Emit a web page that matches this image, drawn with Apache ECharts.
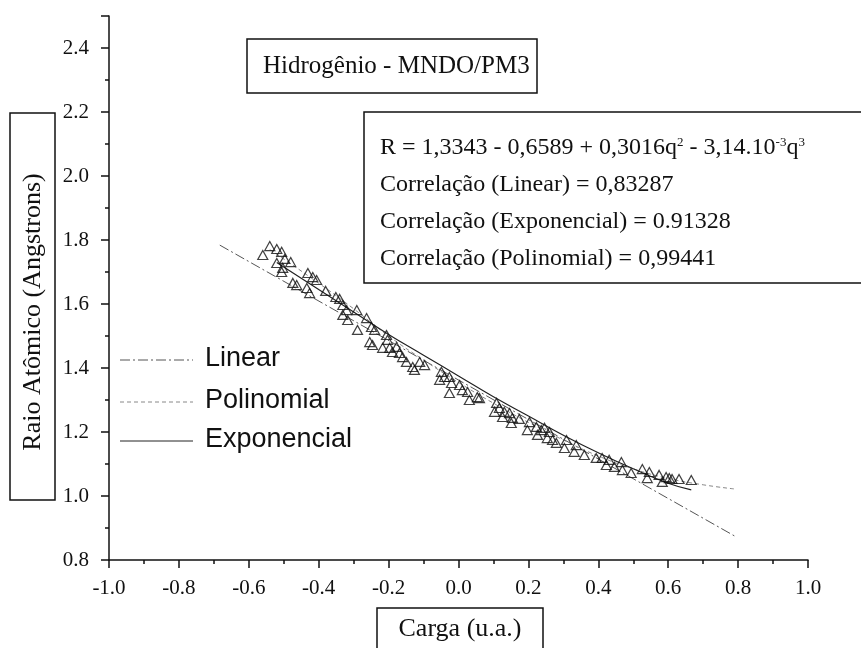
<!DOCTYPE html>
<html>
<head>
<meta charset="utf-8">
<title>Hidrogênio - MNDO/PM3</title>
<script src="https://cdn.jsdelivr.net/npm/echarts@6/dist/echarts.min.js"></script>
<style>
  html, body { margin: 0; padding: 0; background: #fff; }
  #main { width: 861px; height: 648px; }
</style>
</head>
<body>
<div id="main"></div>
<script>
// carga (u.a.) dos pontos medidos
var cargaData = [-0.540, -0.520, -0.506, -0.560, -0.497, -0.480, -0.520, -0.503, -0.506, -0.431,
  -0.417, -0.406, -0.474, -0.463, -0.434, -0.426, -0.380, -0.351, -0.340, -0.331,
  -0.320, -0.331, -0.317, -0.291, -0.263, -0.289, -0.249, -0.240, -0.206, -0.203,
  -0.254, -0.246, -0.217, -0.197, -0.177, -0.189, -0.169, -0.160, -0.149, -0.131,
  -0.111, -0.097, -0.126, -0.049, -0.040, -0.026, -0.054, -0.020, -0.026, 0.003,
  0.011, 0.026, 0.031, 0.054, 0.060, 0.109, 0.117, 0.103, 0.131, 0.146,
  0.126, 0.154, 0.151, 0.174, 0.203, 0.197, 0.223, 0.237, 0.246, 0.260,
  0.226, 0.254, 0.269, 0.280, 0.309, 0.303, 0.337, 0.331, 0.360, 0.394,
  0.411, 0.431, 0.423, 0.446, 0.466, 0.469, 0.494, 0.526, 0.546, 0.540,
  0.574, 0.594, 0.583, 0.603, 0.611, 0.631, 0.666];
// raio atômico (Angstrons) dos pontos medidos
var raioData = [1.781, 1.772, 1.763, 1.753, 1.741, 1.731, 1.728, 1.713, 1.700, 1.697,
  1.684, 1.675, 1.666, 1.659, 1.650, 1.634, 1.641, 1.622, 1.616, 1.597,
  1.581, 1.566, 1.550, 1.581, 1.556, 1.519, 1.528, 1.519, 1.503, 1.488,
  1.481, 1.472, 1.463, 1.463, 1.466, 1.450, 1.447, 1.434, 1.419, 1.403,
  1.419, 1.409, 1.394, 1.388, 1.372, 1.372, 1.363, 1.353, 1.322, 1.347,
  1.331, 1.325, 1.300, 1.309, 1.306, 1.291, 1.275, 1.263, 1.263, 1.259,
  1.247, 1.244, 1.228, 1.241, 1.231, 1.206, 1.216, 1.206, 1.213, 1.200,
  1.191, 1.181, 1.175, 1.166, 1.175, 1.150, 1.159, 1.138, 1.128, 1.119,
  1.119, 1.113, 1.097, 1.091, 1.106, 1.081, 1.072, 1.084, 1.075, 1.056,
  1.066, 1.059, 1.044, 1.056, 1.053, 1.053, 1.050];

// curvas de ajuste
var linearQ = [-0.683, 0.790];
var linearR = [1.784, 0.875];
var polyQ = [-0.54, -0.4, -0.3, -0.2, -0.1, 0.0, 0.1, 0.2, 0.3, 0.4, 0.5, 0.6, 0.7, 0.79];
var polyR = [1.770, 1.665, 1.585, 1.500, 1.425, 1.355, 1.290, 1.230, 1.175, 1.125, 1.085, 1.055, 1.035, 1.022];
var expQ = [-0.52, -0.4, -0.3, -0.2, -0.1, 0.0, 0.1, 0.2, 0.3, 0.4, 0.5, 0.6, 0.666];
var expR = [1.730, 1.645, 1.575, 1.505, 1.440, 1.375, 1.310, 1.250, 1.190, 1.135, 1.085, 1.040, 1.019];

// legenda das curvas
var legendNames = ['Linear', 'Polinomial', 'Exponencial'];

function pairs(xs, ys) {
  var out = [];
  for (var i = 0; i < xs.length; i++) {
    out.push([xs[i], ys[i]]);
  }
  return out;
}

var serif = '"Liberation Serif", "Times New Roman", serif';
var sans = '"Liberation Sans", Arial, sans-serif';

var lineStyles = [
  {color: '#555', width: 1, type: [10, 3, 2, 3]},
  {color: '#888', width: 1, type: [4, 3]},
  {color: '#222', width: 1.2, type: 'solid'}
];

var chart = echarts.init(document.getElementById('main'));

var legendGraphics = [];
var legendY = [360, 402, 441];
for (var i = 0; i < legendNames.length; i++) {
  legendGraphics.push({
    type: 'line',
    shape: {x1: 120, y1: legendY[i], x2: 193, y2: legendY[i]},
    style: {stroke: lineStyles[i].color, lineWidth: 1, lineDash: lineStyles[i].type === 'solid' ? null : lineStyles[i].type}
  });
  legendGraphics.push({
    type: 'text',
    x: 205,
    y: legendY[i] - 1,
    style: {text: legendNames[i], font: '27px ' + sans, fill: '#111', verticalAlign: 'middle'}
  });
}

var option = {
  backgroundColor: '#fff',
  animation: false,
  grid: {
    left: 109,
    right: 53,
    top: 16,
    bottom: 88,
    outerBoundsMode: 'none'
  },
  xAxis: {
    type: 'value',
    min: -1,
    max: 1,
    interval: 0.2,
    splitLine: {show: false},
    axisLine: {show: true, onZero: false, lineStyle: {color: '#111', width: 1.5}},
    axisTick: {show: true, length: 8, lineStyle: {color: '#111', width: 1.5}},
    minorTick: {show: true, splitNumber: 2, length: 4, lineStyle: {color: '#111', width: 1.5}},
    axisLabel: {
      margin: 18,
      color: '#111',
      fontFamily: serif,
      fontSize: 21,
      formatter: function (v) { return v.toFixed(1); }
    }
  },
  yAxis: {
    type: 'value',
    min: 0.8,
    max: 2.5,
    interval: 0.2,
    splitLine: {show: false},
    axisLine: {show: true, onZero: false, lineStyle: {color: '#111', width: 1.5}},
    axisTick: {show: true, length: 8, lineStyle: {color: '#111', width: 1.5}},
    minorTick: {show: true, splitNumber: 2, length: 4, lineStyle: {color: '#111', width: 1.5}},
    axisLabel: {
      margin: 20,
      color: '#111',
      fontFamily: serif,
      fontSize: 21,
      showMaxLabel: false,
      formatter: function (v) { return v.toFixed(1); }
    }
  },
  series: [
    {
      name: 'Linear',
      type: 'line',
      data: pairs(linearQ, linearR),
      symbol: 'none',
      lineStyle: lineStyles[0],
      z: 2
    },
    {
      name: 'Polinomial',
      type: 'line',
      data: pairs(polyQ, polyR),
      symbol: 'none',
      smooth: true,
      lineStyle: lineStyles[1],
      z: 2
    },
    {
      name: 'Exponencial',
      type: 'line',
      data: pairs(expQ, expR),
      symbol: 'none',
      smooth: true,
      lineStyle: lineStyles[2],
      z: 2
    },
    {
      name: 'Raio',
      type: 'scatter',
      data: pairs(cargaData, raioData),
      symbol: 'triangle',
      symbolSize: [10, 9],
      itemStyle: {color: 'transparent', borderColor: '#111', borderWidth: 1.2},
      z: 3
    }
  ],
  graphic: [
    // titulo do eixo y em caixa
    {
      type: 'rect',
      shape: {x: 10, y: 113, width: 45, height: 387},
      style: {fill: '#fff', stroke: '#111', lineWidth: 1.5}
    },
    {
      type: 'text',
      x: 33,
      y: 312,
      rotation: Math.PI / 2,
      style: {text: 'Raio Atômico (Angstrons)', font: '26px ' + serif, fill: '#111', align: 'center', verticalAlign: 'middle'}
    },
    // titulo do eixo x em caixa
    {
      type: 'rect',
      shape: {x: 377, y: 608, width: 166, height: 60},
      style: {fill: '#fff', stroke: '#111', lineWidth: 1.5}
    },
    {
      type: 'text',
      x: 460,
      y: 629,
      style: {text: 'Carga (u.a.)', font: '26px ' + serif, fill: '#111', align: 'center', verticalAlign: 'middle'}
    },
    // titulo do grafico
    {
      type: 'rect',
      shape: {x: 247, y: 39, width: 290, height: 54},
      style: {fill: '#fff', stroke: '#111', lineWidth: 1.5}
    },
    {
      type: 'text',
      x: 263,
      y: 66,
      style: {text: 'Hidrogênio - MNDO/PM3', font: '25px ' + serif, fill: '#111', verticalAlign: 'middle'}
    },
    // caixa da equacao e correlacoes
    {
      type: 'rect',
      shape: {x: 364, y: 112, width: 520, height: 171},
      style: {fill: '#fff', stroke: '#111', lineWidth: 1.5}
    },
    {
      type: 'text',
      x: 380,
      y: 148,
      style: {
        text: 'R = 1,3343 - 0,6589 + 0,3016q{s|2} - 3,14.10{s|-3}q{s|3}',
        font: '24px ' + serif,
        fill: '#111',
        verticalAlign: 'middle',
        rich: {
          s: {fontSize: 13, fontFamily: serif, fill: '#111', verticalAlign: 'top'}
        }
      }
    },
    {
      type: 'text', x: 380, y: 185,
      style: {text: 'Correlação (Linear) = 0,83287', font: '24px ' + serif, fill: '#111', verticalAlign: 'middle'}
    },
    {
      type: 'text', x: 380, y: 222,
      style: {text: 'Correlação (Exponencial) = 0.91328', font: '24px ' + serif, fill: '#111', verticalAlign: 'middle'}
    },
    {
      type: 'text', x: 380, y: 259,
      style: {text: 'Correlação (Polinomial) = 0,99441', font: '24px ' + serif, fill: '#111', verticalAlign: 'middle'}
    }
  ].concat(legendGraphics)
};

chart.setOption(option);
</script>
</body>
</html>
